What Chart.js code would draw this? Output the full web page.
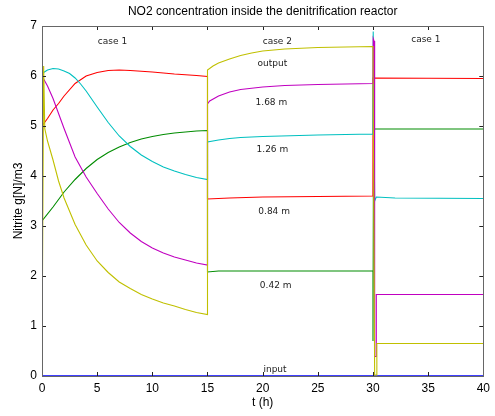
<!DOCTYPE html>
<html>
<head>
<meta charset="utf-8">
<title>NO2 concentration inside the denitrification reactor</title>
<script src="https://cdn.jsdelivr.net/npm/chart.js@4/dist/chart.umd.min.js"></script>
<style>
  html, body { margin: 0; padding: 0; background: #fff; }
  #wrap { width: 495px; height: 416px; position: relative; }
</style>
</head>
<body>
<div id="wrap"><canvas id="grafico"></canvas></div>
<script>
// ---------- dados ----------
const chartTitle = "NO2 concentration inside the denitrification reactor";
const xTitle = "t (h)";
const yTitle = "Nitrite g[N]/m3";

// input
const inT = [0, 40];
const inV = [0, 0];

// 0.42 m
const grT = [0, 0, 1, 2, 3, 4, 5, 6, 7, 8, 9, 10, 11, 12, 13, 14, 15, 15, 16, 30, 30, 30.05, 40];
const grV = [1.05, 3.1, 3.38, 3.68, 3.93, 4.15, 4.33, 4.47, 4.58, 4.67, 4.74, 4.79, 4.83, 4.86, 4.88, 4.9, 4.91, 2.08, 2.1, 2.1, 0.7, 4.94, 4.94];

// 0.84 m
const rdT = [0, 0, 0.5, 1, 1.5, 2, 3, 4, 5, 6, 7, 8, 10, 12, 14, 15, 15, 17, 20, 30, 30, 40];
const rdV = [1.05, 5.0, 5.15, 5.32, 5.45, 5.6, 5.85, 6.0, 6.07, 6.11, 6.12, 6.11, 6.08, 6.04, 6.01, 5.99, 3.54, 3.56, 3.58, 3.6, 5.96, 5.95];

// 1.26 m
const cyT = [0, 0, 0.5, 1, 1.5, 2, 2.5, 3, 3.5, 4, 5, 6, 7, 8, 9, 10, 11, 12, 13, 14, 15, 15, 16, 17, 18, 20, 25, 30, 30.02, 30.15, 30.3, 32, 40];
const cyV = [1.05, 6.05, 6.12, 6.15, 6.14, 6.1, 6.05, 5.96, 5.84, 5.7, 5.38, 5.07, 4.8, 4.59, 4.42, 4.29, 4.18, 4.1, 4.03, 3.97, 3.93, 4.68, 4.72, 4.75, 4.77, 4.79, 4.82, 4.84, 6.89, 3.5, 3.58, 3.56, 3.55];

// 1.68 m
const mgT = [0, 0, 0.5, 1, 2, 3, 4, 5, 6, 7, 8, 9, 10, 11, 12, 13, 14, 15, 15, 15.2, 16, 17, 18, 20, 22, 25, 30, 30.02, 30.1, 30.15, 30.3, 30.3, 40];
const mgV = [1.05, 6.0, 5.8, 5.55, 4.95, 4.38, 3.98, 3.65, 3.34, 3.07, 2.86, 2.69, 2.56, 2.46, 2.38, 2.32, 2.26, 2.22, 5.44, 5.5, 5.6, 5.68, 5.73, 5.78, 5.81, 5.83, 5.85, 6.75, 6.7, 0.39, 0.39, 1.63, 1.63];

// output
const ylT = [0, 0.02, 0.15, 0.25, 0.5, 1, 1.5, 2, 3, 4, 5, 6, 7, 8, 9, 10, 11, 12, 13, 14, 15, 15, 15.5, 16, 17, 18, 19, 20, 22, 25, 30, 30.15, 30.35, 30.35, 40];
const ylV = [0, 1.05, 6.2, 4.95, 4.7, 4.32, 3.9, 3.56, 3.03, 2.62, 2.3, 2.07, 1.88, 1.75, 1.63, 1.54, 1.46, 1.4, 1.33, 1.27, 1.23, 6.12, 6.2, 6.26, 6.34, 6.41, 6.46, 6.5, 6.54, 6.57, 6.59, 0.02, 0.02, 0.65, 0.65];

// textos dentro do gráfico (posição em unidades dos eixos)
const noteText = ["case 1", "case 2", "case 1", "output", "1.68 m", "1.26 m", "0.84 m", "0.42 m", "input"];
const noteX    = [6.39, 21.33, 34.79, 20.88, 20.79, 20.88, 21.04, 21.18, 21.12];
const noteY    = [6.68, 6.69, 6.73, 6.25, 5.47, 4.52, 3.29, 1.8, 0.12];

// ---------- helpers ----------
const pts = (ts, vs) => ts.map((t, i) => ({ x: t, y: vs[i] }));
// o primeiro trecho (condição inicial em t=0) sai escuro, como na figura
const escuro = (ctx) => ctx.p0DataIndex === 0 ? "#3c3c14" : undefined;
const serie = (label, ts, vs, cor, ordem, opts = {}) => ({
  label, data: pts(ts, vs), borderColor: cor, backgroundColor: cor,
  borderWidth: 1.1, pointRadius: 0, showLine: true, tension: 0, order: ordem,
  ...opts
});

// moldura, ticks para dentro, títulos e anotações
const decor = {
  id: "decor",
  afterDraw(chart) {
    const { ctx, chartArea: a, scales: { x, y } } = chart;
    ctx.save();
    // ticks para dentro (4 lados)
    ctx.strokeStyle = "#222";
    ctx.lineWidth = 1;
    ctx.beginPath();
    x.ticks.forEach(t => {
      const px = Math.round(x.getPixelForValue(t.value)) + 0.5;
      ctx.moveTo(px, a.bottom); ctx.lineTo(px, a.bottom - 4);
      ctx.moveTo(px, a.top); ctx.lineTo(px, a.top + 4);
    });
    y.ticks.forEach(t => {
      const py = Math.round(y.getPixelForValue(t.value)) + 0.5;
      ctx.moveTo(a.left, py); ctx.lineTo(a.left + 4, py);
      ctx.moveTo(a.right, py); ctx.lineTo(a.right - 4, py);
    });
    ctx.stroke();
    // moldura
    ctx.strokeStyle = "#666";
    ctx.strokeRect(Math.round(a.left) + 0.5, Math.round(a.top) + 0.5,
                   Math.round(a.right - a.left), Math.round(a.bottom - a.top));

    // anotações
    ctx.fillStyle = "#222";
    ctx.font = "9px 'DejaVu Sans'";
    ctx.textAlign = "center";
    ctx.textBaseline = "middle";
    noteText.forEach((s, i) => {
      ctx.fillText(s, x.getPixelForValue(noteX[i]), y.getPixelForValue(noteY[i]));
    });

    // título e eixos
    ctx.fillStyle = "#000";
    ctx.font = "12px 'Liberation Sans'";
    const cx = (a.left + a.right) / 2;
    ctx.fillText(chartTitle, cx, 12);
    ctx.fillText(xTitle, cx, 403);
    ctx.translate(18.5, (a.top + a.bottom) / 2);
    ctx.rotate(-Math.PI / 2);
    ctx.fillText(yTitle, 0, 0);
    ctx.restore();
  }
};

// ---------- gráfico ----------
new Chart(document.getElementById("grafico"), {
  type: "scatter",
  data: {
    datasets: [
      serie("input", inT, inV, "#0000ff", 5, { borderWidth: 1.5 }),
      serie("0.42 m", grT, grV, "#008c00", 4, { segment: { borderColor: escuro } }),
      serie("0.84 m", rdT, rdV, "#ff0000", 3, { segment: { borderColor: escuro } }),
      serie("1.26 m", cyT, cyV, "#00c0c0", 2, { segment: { borderColor: escuro } }),
      serie("1.68 m", mgT, mgV, "#c000c0", 1, { segment: { borderColor: escuro } }),
      serie("output", ylT, ylV, "#c0c000", 0)
    ]
  },
  options: {
    responsive: true,
    maintainAspectRatio: false,
    animation: false,
    layout: { padding: { top: 26, right: 8, left: 0, bottom: 0 } },
    plugins: { legend: { display: false }, tooltip: { enabled: false }, title: { display: false } },
    scales: {
      x: {
        type: "linear", min: 0, max: 40,
        afterFit: s => { s.height = 40; },
        grid: { display: false, drawTicks: false },
        border: { display: false },
        ticks: { stepSize: 5, padding: 5, color: "#000", font: { family: "Liberation Sans", size: 12 } }
      },
      y: {
        type: "linear", min: 0, max: 7,
        afterFit: s => { s.width = 42; },
        grid: { display: false, drawTicks: false },
        border: { display: false },
        ticks: { stepSize: 1, padding: 5, color: "#000", font: { family: "Liberation Sans", size: 12 } }
      }
    }
  },
  plugins: [decor]
});
</script>
</body>
</html>
